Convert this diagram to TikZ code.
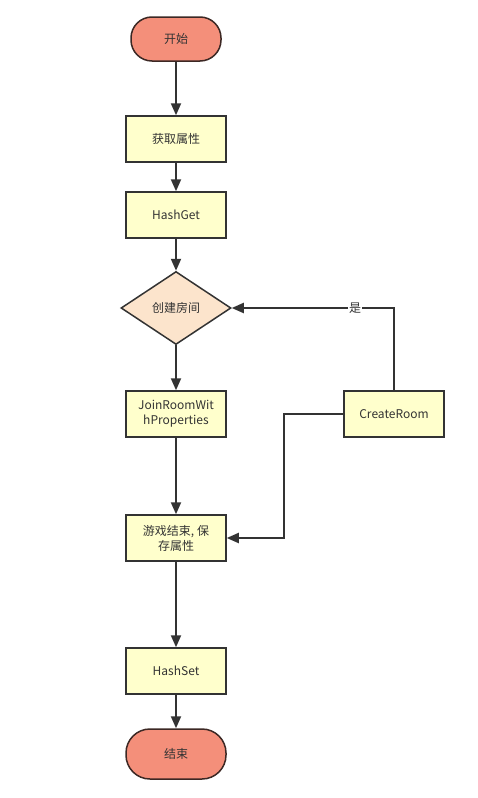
\documentclass[tikz,border=0pt]{standalone}
\usepackage{fontspec}
\setmainfont{Noto Sans CJK SC}
\usepackage{tikz}
\usetikzlibrary{shapes}
\usetikzlibrary{arrows.meta}

\definecolor{termfill}{RGB}{244,143,122}
\definecolor{termline}{RGB}{60,40,36}
\definecolor{boxfill}{RGB}{255,255,204}
\definecolor{decfill}{RGB}{252,228,204}
\definecolor{ink}{RGB}{51,51,51}

\begin{document}
\begin{tikzpicture}[x=1pt,y=-1pt,
    every node/.style={font=\fontsize{12}{15}\selectfont, text=ink},
    term/.style={draw=termline, line width=1.5pt, fill=termfill, rounded corners=21pt, minimum width=90pt, minimum height=44pt},
    proc/.style={draw=ink, line width=1.5pt, fill=boxfill, minimum width=100pt, minimum height=46pt, align=center, inner sep=1pt},
    decide/.style={draw=ink, line width=1.5pt, fill=decfill, shape=diamond, minimum width=110pt, minimum height=73pt, inner sep=0pt},
    flow/.style={draw=ink, line width=2pt, -{Triangle[length=12pt,width=10pt]}}]
    \fill[white] (0,0) rectangle (478,798);

    \node[term] (start) at (176,39) {开始};
    \node[proc] (props) at (176,139) {获取属性};
    \node[proc] (hashget) at (176,215) {HashGet};
    \node[decide] (room) at (176,308) {创建房间};
    \node[proc] (join) at (176,414) {JoinRoomWit\\hProperties};
    \node[proc] (create) at (394,414) {CreateRoom};
    \node[proc] (save) at (176,538) {游戏结束, 保\\存属性};
    \node[proc] (hashset) at (176,671) {HashSet};
    \node[term, minimum width=100pt, minimum height=50pt, rounded corners=24pt] (stop) at (176,754) {结束};

    \draw[flow] (start) -- (props);
    \draw[flow] (props) -- (hashget);
    \draw[flow] (hashget) -- (room);
    \draw[flow] (room) -- (join);
    \draw[flow] (create.north) |- node[pos=0.62, fill=white, inner sep=1pt] {是} (room.east);
    \draw[flow] (create.west) -- ++(-59,0) |- (save.east);
    \draw[flow] (join) -- (save);
    \draw[flow] (save) -- (hashset);
    \draw[flow] (hashset) -- (stop);
\end{tikzpicture}
\end{document}
